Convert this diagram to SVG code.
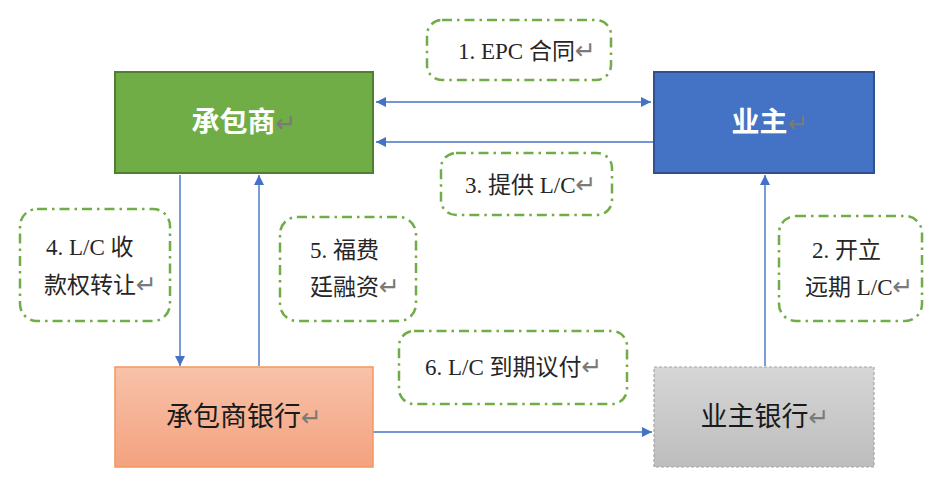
<svg xmlns="http://www.w3.org/2000/svg" width="940" height="481" viewBox="0 0 940 481">
<defs>
<linearGradient id="gOrange" x1="0" y1="0" x2="0" y2="1">
<stop offset="0" stop-color="#F8C2AA"/>
<stop offset="1" stop-color="#F4A27F"/>
</linearGradient>
<linearGradient id="gGray" x1="0" y1="0" x2="0" y2="1">
<stop offset="0" stop-color="#D6D6D6"/>
<stop offset="1" stop-color="#BDBDBD"/>
</linearGradient>
<marker id="ah" viewBox="0 0 10 10" refX="10" refY="5" markerWidth="10" markerHeight="10" markerUnits="userSpaceOnUse" orient="auto-start-reverse">
<path d="M0,0 L10,5 L0,10 Z" fill="#4472C4"/>
</marker>
<style>
.t{font-family:"Liberation Serif","Noto Sans CJK SC",serif;}
.lbl{fill:none;stroke:#70AD47;stroke-width:2.5;stroke-dasharray:10 5 2.5 5;}
.lt{font-size:23px;fill:#262626;}
.pm{fill:#7A7A7A;font-family:"DejaVu Sans",sans-serif;font-weight:normal;font-size:25px;}
.con{stroke:#4472C4;stroke-width:1.4;fill:none;}
</style>
</defs>
<rect width="940" height="481" fill="#FFFFFF"/>
<g id="connectors">
<line class="con" x1="376" y1="102" x2="651" y2="102" marker-start="url(#ah)" marker-end="url(#ah)"/>
<line class="con" x1="653" y1="142" x2="376" y2="142" marker-end="url(#ah)"/>
<line class="con" x1="180" y1="175" x2="180" y2="366" marker-end="url(#ah)"/>
<line class="con" x1="259" y1="366" x2="259" y2="175" marker-end="url(#ah)"/>
<line class="con" x1="373" y1="432" x2="652" y2="432" marker-end="url(#ah)"/>
<line class="con" x1="765" y1="366" x2="765" y2="175" marker-end="url(#ah)"/>
</g>
<g id="contractor">
<rect x="115" y="72" width="258" height="101" fill="#70AD47" stroke="#507E32" stroke-width="2"/>
<text class="t" x="244" y="132" text-anchor="middle" font-size="28" font-weight="bold" fill="#FFFFFF">承包商<tspan class="pm">↵</tspan></text>
</g>
<g id="owner">
<rect x="654" y="72" width="220" height="101" fill="#4472C4" stroke="#2F528F" stroke-width="2"/>
<text class="t" x="770" y="132" text-anchor="middle" font-size="28" font-weight="bold" fill="#FFFFFF">业主<tspan class="pm">↵</tspan></text>
</g>
<g id="contractor-bank">
<rect x="115" y="367" width="258" height="100" fill="url(#gOrange)" stroke="#F4975F" stroke-width="1.5"/>
<text class="t" x="244" y="426" text-anchor="middle" font-size="27" fill="#1A1A1A">承包商银行<tspan class="pm">↵</tspan></text>
</g>
<g id="owner-bank">
<rect x="654" y="367" width="220" height="100" fill="url(#gGray)" stroke="#A6A6A6" stroke-width="1.2" stroke-dasharray="3 2"/>
<text class="t" x="765" y="426" text-anchor="middle" font-size="27" fill="#1A1A1A">业主银行<tspan class="pm">↵</tspan></text>
</g>
<g id="label1">
<rect class="lbl" x="427" y="20" width="184" height="60" rx="15"/>
<text class="t lt" x="458" y="59">1. EPC 合同<tspan class="pm">↵</tspan></text>
</g>
<g id="label3">
<rect class="lbl" x="441" y="153" width="171" height="62" rx="15"/>
<text class="t lt" x="465" y="193">3. 提供 L/C<tspan class="pm">↵</tspan></text>
</g>
<g id="label4">
<rect class="lbl" x="20" y="209" width="150" height="112" rx="17"/>
<text class="t lt" x="46" y="255">4. L/C 收</text>
<text class="t lt" x="44" y="293">款权转让<tspan class="pm">↵</tspan></text>
</g>
<g id="label5">
<rect class="lbl" x="280" y="217" width="136" height="104" rx="17"/>
<text class="t lt" x="310" y="258">5. 福费</text>
<text class="t lt" x="310" y="295">廷融资<tspan class="pm">↵</tspan></text>
</g>
<g id="label6">
<rect class="lbl" x="399" y="331" width="228" height="73" rx="15"/>
<text class="t lt" x="425" y="375">6. L/C 到期议付<tspan class="pm">↵</tspan></text>
</g>
<g id="label2">
<rect class="lbl" x="779" y="216" width="143" height="105" rx="17"/>
<text class="t lt" x="812" y="258">2. 开立</text>
<text class="t lt" x="805" y="295">远期 L/C<tspan class="pm">↵</tspan></text>
</g>
</svg>
